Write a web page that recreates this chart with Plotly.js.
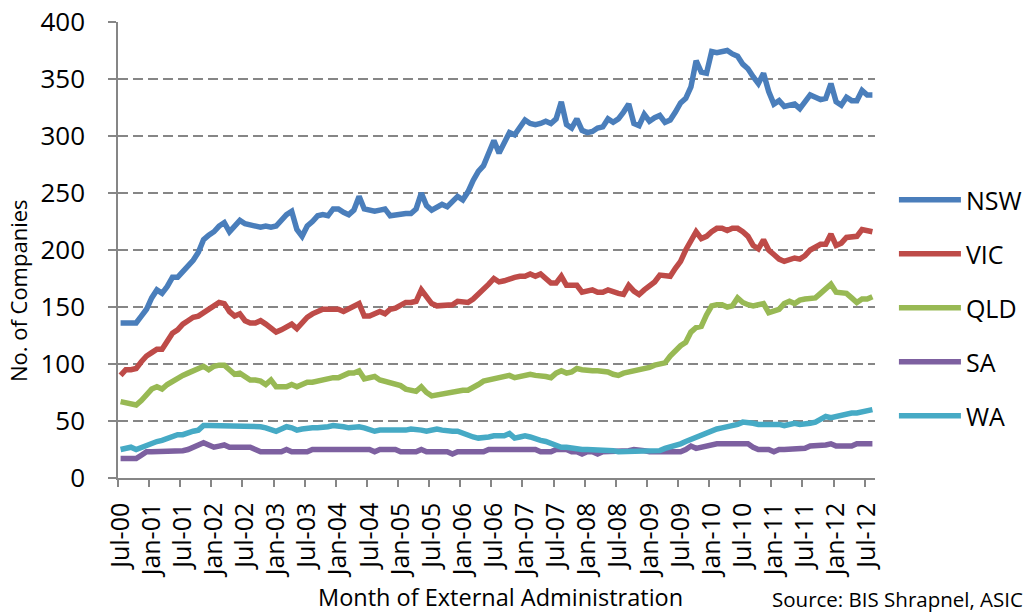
<!DOCTYPE html>
<html>
<head>
<meta charset="utf-8">
<script src="https://cdn.plot.ly/plotly-3.0.1.min.js"></script>
<style>
  html, body { margin: 0; padding: 0; background: #fff; }
  #grafico { width: 1027px; height: 614px; }
</style>
</head>
<body>
<div id="grafico"></div>
<script>
// Companies entering external administration, monthly, Jul-00 to Aug-12

const nomesMeses = ["Jan", "Feb", "Mar", "Apr", "May", "Jun", "Jul", "Aug", "Sep", "Oct", "Nov", "Dec"];

// category labels, one per month (Jul-00 ... Aug-12)
const meses = [];
for (let i = 0; i < 146; i++) {
  const idx = (6 + i) % 12;
  const ano = Math.floor((6 + i) / 12);
  meses.push(nomesMeses[idx] + "-" + String(ano).padStart(2, "0"));
}

const nsw = [
  136, 136, 137, 136, 142, 148, 158, 165, 162, 168,
  176, 176, 181, 186, 191, 198, 209, 213, 216, 221,
  224, 216, 221, 226, 223, 222, 222, 220, 221, 220,
  221, 226, 231, 234, 218, 212, 221, 225, 230, 231,
  230, 236, 236, 233, 231, 235, 247, 236, 235, 234,
  235, 236, 230, 231, 232, 232, 232, 236, 250, 239,
  235, 237, 240, 238, 243, 247, 244, 251, 261, 269,
  274, 284, 296, 285, 295, 303, 301, 308, 314, 311,
  310, 311, 313, 311, 315, 330, 310, 307, 315, 305,
  303, 304, 307, 308, 315, 312, 315, 321, 328, 311,
  309, 319, 313, 316, 318, 312, 314, 321, 329, 333,
  343, 366, 356, 355, 374, 373, 374, 375, 372, 370,
  363, 359, 352, 346, 355, 339, 328, 331, 326, 327,
  328, 324, 331, 336, 334, 332, 333, 346, 330, 327,
  334, 331, 331, 340, 336, 336
];

const vic = [
  90, 95, 95, 96, 102, 107, 110, 113, 113, 120,
  127, 130, 135, 138, 141, 142, 145, 147, 151, 154,
  153, 146, 142, 144, 138, 136, 136, 138, 135, 131,
  128, 130, 132, 135, 131, 137, 141, 144, 146, 148,
  148, 148, 148, 146, 148, 150, 153, 142, 142, 144,
  146, 144, 148, 149, 151, 154, 154, 155, 165, 158,
  153, 151, 151, 152, 152, 155, 154, 154, 157, 161,
  166, 170, 175, 172, 173, 175, 176, 177, 177, 179,
  177, 179, 175, 171, 171, 177, 169, 169, 169, 163,
  164, 165, 163, 163, 165, 163, 162, 161, 169, 164,
  161, 165, 169, 172, 178, 178, 177, 184, 190, 200,
  208, 216, 210, 212, 216, 219, 219, 217, 219, 219,
  216, 212, 204, 201, 209, 200, 196, 192, 190, 192,
  193, 192, 195, 200, 203, 205, 205, 214, 204, 206,
  211, 212, 212, 218, 217, 216
];

const qld = [
  67, 66, 66, 64, 68, 74, 78, 80, 78, 82,
  85, 88, 90, 92, 94, 97, 98, 95, 98, 99,
  99, 95, 91, 92, 89, 86, 86, 85, 82, 86,
  80, 80, 80, 82, 80, 82, 84, 84, 85, 86,
  88, 88, 88, 90, 92, 92, 94, 87, 88, 89,
  86, 85, 83, 82, 81, 78, 77, 76, 80, 75,
  72, 73, 74, 74, 75, 77, 77, 77, 79, 82,
  85, 86, 87, 87, 88, 90, 88, 89, 91, 91,
  90, 90, 89, 88, 92, 94, 92, 93, 96, 95,
  94, 94, 94, 94, 93, 91, 90, 92, 93, 94,
  94, 96, 97, 99, 100, 101, 107, 112, 116, 119,
  128, 132, 133, 143, 151, 152, 152, 150, 151, 158,
  154, 152, 151, 152, 153, 145, 147, 148, 153, 155,
  153, 156, 157, 157, 158, 162, 166, 170, 163, 162,
  162, 158, 154, 157, 157, 159
];

const sa = [
  17, 17, 17, 17, 20, 23, 23, 23, 23, 23,
  23, 23, 24, 25, 27, 29, 31, 29, 27, 28,
  29, 27, 27, 27, 27, 27, 25, 23, 23, 23,
  23, 23, 25, 23, 23, 23, 23, 25, 25, 25,
  25, 25, 25, 25, 25, 25, 25, 25, 25, 23,
  25, 25, 25, 25, 23, 23, 23, 23, 25, 23,
  23, 23, 23, 23, 21, 23, 23, 23, 23, 23,
  23, 25, 25, 25, 25, 25, 25, 25, 25, 25,
  25, 23, 23, 23, 25, 25, 25, 23, 23, 21,
  23, 23, 21, 23, 23, 23, 24, 23, 24, 25,
  25, 24, 23, 23, 23, 23, 23, 23, 23, 25,
  28, 26, 27, 29, 30, 30, 30, 30, 30, 30,
  30, 30, 27, 25, 25, 25, 23, 25, 25, 25,
  25, 25, 26, 28, 28, 28, 29, 30, 28, 28,
  28, 28, 30, 30, 30, 30
];

const wa = [
  25, 26, 27, 25, 27, 29, 31, 32, 33, 35,
  37, 38, 38, 40, 41, 42, 46, 46, 46, 45,
  46, 46, 46, 46, 46, 45, 46, 45, 44, 42,
  41, 43, 45, 44, 42, 43, 44, 44, 44, 44,
  45, 46, 46, 45, 44, 45, 45, 44, 42, 41,
  42, 42, 41, 41, 41, 42, 43, 43, 42, 41,
  42, 43, 42, 41, 41, 41, 39, 37, 36, 35,
  35, 36, 37, 37, 37, 39, 35, 36, 37, 36,
  34, 33, 32, 30, 28, 27, 27, 26, 25, 25,
  25, 25, 25, 25, 25, 24, 23, 23, 23, 23,
  23, 23, 23, 23, 24, 26, 27, 28, 30, 32,
  34, 36, 38, 40, 41, 43, 44, 45, 45, 47,
  49, 49, 48, 47, 47, 47, 48, 47, 46, 47,
  48, 47, 47, 48, 49, 51, 54, 53, 54, 56,
  57, 57, 57, 58, 59, 60
];

const estados = ["NSW", "VIC", "QLD", "SA", "WA"];
const series = [nsw, vic, qld, sa, wa];
const cores = ["#4a7ebb", "#be4b48", "#98b954", "#7d60a0", "#46aac5"];

const fonte = "'Open Sans', 'Liberation Sans', sans-serif";
const cinza = "#868686";

const data = estados.map((nome, i) => ({
  x: meses,
  y: series[i],
  type: "scatter",
  mode: "lines",
  name: nome,
  legendgroup: nome,
  line: { color: cores[i], width: 5.5 },
  hoverinfo: "x+y+name"
}));

const layout = {
  width: 1027,
  height: 614,
  paper_bgcolor: "#ffffff",
  plot_bgcolor: "#ffffff",
  font: { family: fonte, size: 26, color: "#000000" },
  margin: { l: 118, r: 152, t: 22, b: 136, autoexpand: false },
  showlegend: true,
  legend: {
    x: 1.025,
    xanchor: "left",
    y: 0.66,
    yanchor: "top",
    font: { family: fonte, size: 25, color: "#000000" },
    tracegroupgap: 18.5,
    itemwidth: 62,
    bgcolor: "rgba(0,0,0,0)"
  },
  xaxis: {
    type: "category",
    range: [-0.5, meses.length - 0.5],
    tickmode: "linear",
    tick0: 0,
    dtick: 6,
    tickson: "boundaries",
    tickangle: -90,
    ticks: "outside",
    ticklen: 7,
    tickwidth: 1.5,
    tickcolor: cinza,
    ticklabelstandoff: 13,
    showline: true,
    linecolor: cinza,
    linewidth: 1.5,
    showgrid: false,
    zeroline: false,
    tickfont: { family: fonte, size: 25, color: "#000000" }
  },
  yaxis: {
    range: [0, 400],
    tickmode: "linear",
    tick0: 0,
    dtick: 50,
    ticks: "outside",
    ticklen: 8,
    tickwidth: 1.5,
    tickcolor: cinza,
    ticklabelstandoff: 18,
    showline: true,
    linecolor: cinza,
    linewidth: 1.5,
    showgrid: true,
    gridcolor: cinza,
    gridwidth: 1.5,
    griddash: "10px,5px",
    zeroline: false,
    tickfont: { family: fonte, size: 26, color: "#000000" }
  },
  annotations: [
    {
      xref: "paper", yref: "paper",
      x: -0.132, y: 0.41,
      xanchor: "center", yanchor: "middle",
      textangle: -90,
      showarrow: false,
      text: "No. of Companies",
      font: { family: fonte, size: 22, color: "#000000" }
    },
    {
      xref: "paper", yref: "paper",
      x: 0.505, y: -0.262,
      xanchor: "center", yanchor: "middle",
      showarrow: false,
      text: "Month of External Administration",
      font: { family: fonte, size: 23.5, color: "#000000" }
    },
    {
      xref: "paper", yref: "paper",
      x: 1.198, y: -0.265,
      xanchor: "right", yanchor: "middle",
      showarrow: false,
      text: "Source: BIS Shrapnel, ASIC",
      font: { family: fonte, size: 20.5, color: "#000000" }
    }
  ]
};

const config = { displayModeBar: false, responsive: false };

Plotly.newPlot("grafico", data, layout, config);
</script>
</body>
</html>
